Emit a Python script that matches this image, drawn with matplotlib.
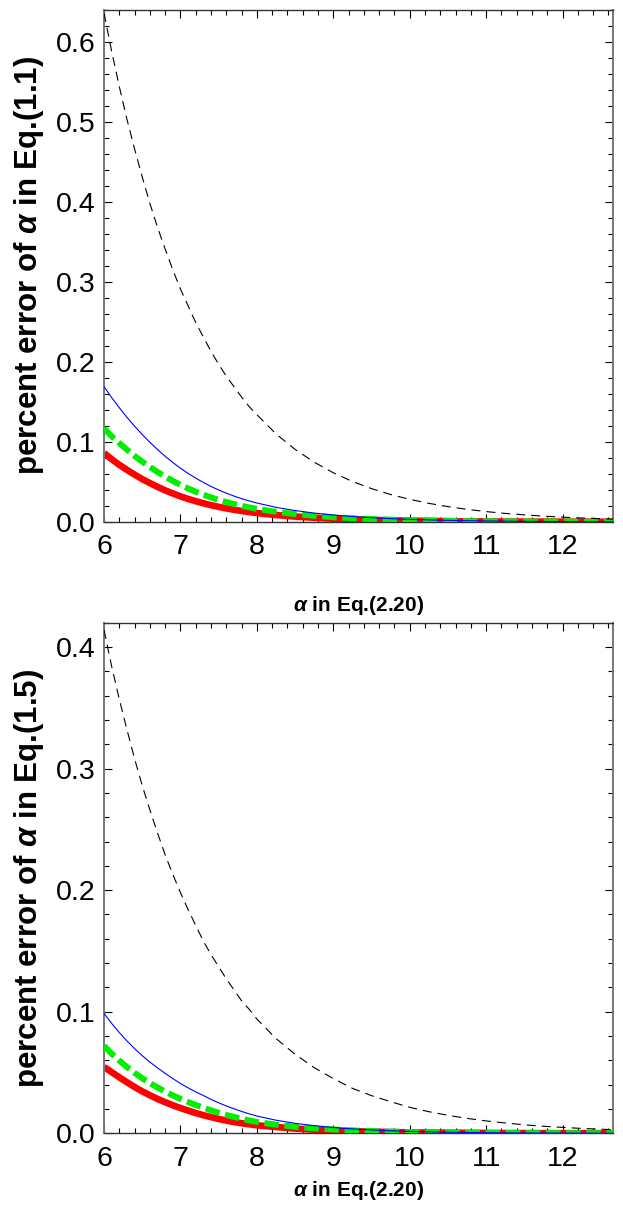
import numpy as np
import matplotlib
matplotlib.use("Agg")
import matplotlib.pyplot as plt
from matplotlib.ticker import MultipleLocator, FormatStrFormatter

plt.rcParams['font.family'] = ['Liberation Sans', 'DejaVu Sans']
plt.rcParams['mathtext.fontset'] = 'custom'
plt.rcParams['mathtext.bf'] = 'Liberation Sans:bold:italic'
plt.rcParams['lines.scale_dashes'] = False

# alpha in Eq.(2.20)
x = [6.0, 6.1, 6.2, 6.3, 6.4, 6.5, 6.6, 6.7, 6.8, 6.9, 7.0, 7.1, 7.2, 7.3, 7.4,
     7.5, 7.6, 7.7, 7.8, 7.9, 8.0,
     8.25, 8.5, 8.75, 9.0, 9.25, 9.5, 9.75, 10.0, 10.25, 10.5, 10.75, 11.0, 11.25,
     11.5, 11.75, 12.0, 12.25, 12.5, 12.66]

# top panel: percent error of alpha in Eq.(1.1)
top_black = [0.636, 0.588, 0.544, 0.503, 0.466, 0.431, 0.398, 0.368, 0.341, 0.315,
             0.291, 0.270, 0.249, 0.231, 0.213, 0.197, 0.182, 0.169, 0.156, 0.144, 0.134,
             0.110, 0.0906, 0.0746, 0.0614, 0.0505, 0.0416, 0.0342, 0.0282, 0.0232,
             0.0191, 0.0157, 0.0129, 0.0106, 0.0088, 0.0072, 0.0059, 0.0049, 0.0040, 0.0035]
top_blue = [0.169, 0.1553, 0.1426, 0.1307, 0.1196, 0.1092, 0.0995, 0.0904, 0.0820, 0.0742,
            0.0671, 0.0606, 0.0547, 0.0493, 0.0443, 0.0399, 0.0359, 0.0323, 0.0291, 0.0262,
            0.0236, 0.0182, 0.0142, 0.0110, 0.0086, 0.0067, 0.0052, 0.0041, 0.0032, 0.0025,
            0.0019, 0.0015, 0.0012, 0.0009, 0.0007, 0.0005, 0.0004, 0.0003, 0.0002, 0.0002]
top_green = [0.117, 0.107, 0.0984, 0.0902, 0.0825, 0.0753, 0.0687, 0.0624, 0.0566, 0.0512,
             0.0463, 0.0418, 0.0377, 0.0340, 0.0306, 0.0275, 0.0248, 0.0223, 0.0201, 0.0181,
             0.0163, 0.0126, 0.0098, 0.0076, 0.0059, 0.0046, 0.0036, 0.0028, 0.0022, 0.0017,
             0.0013, 0.0010, 0.0008, 0.0006, 0.0005, 0.0004, 0.0003, 0.0002, 0.0002, 0.0001]
top_red = [0.086, 0.0784, 0.0713, 0.0650, 0.0591, 0.0535, 0.0485, 0.0438, 0.0394, 0.0355,
           0.0319, 0.0287, 0.0259, 0.0233, 0.0209, 0.0188, 0.0169, 0.0152, 0.0137, 0.0123,
           0.0111, 0.0086, 0.0067, 0.0052, 0.0040, 0.0031, 0.0024, 0.0019, 0.0015, 0.0012,
           0.0009, 0.0007, 0.0005, 0.0004, 0.0003, 0.0003, 0.0002, 0.0002, 0.0001, 0.0001]

# bottom panel: percent error of alpha in Eq.(1.5)
bot_black = [0.414, 0.384, 0.357, 0.332, 0.308, 0.286, 0.266, 0.247, 0.229, 0.213,
             0.198, 0.184, 0.171, 0.158, 0.147, 0.137, 0.127, 0.118, 0.109, 0.102, 0.094,
             0.078, 0.065, 0.054, 0.045, 0.037, 0.031, 0.026, 0.0214, 0.0178, 0.0148,
             0.0123, 0.0102, 0.0085, 0.0070, 0.0058, 0.0049, 0.0040, 0.0034, 0.0030]
bot_blue = [0.0986, 0.0904, 0.0829, 0.0760, 0.0697, 0.0639, 0.0586, 0.0538, 0.0493, 0.0450,
            0.0410, 0.0374, 0.0341, 0.0311, 0.0279, 0.0251, 0.0225, 0.0202, 0.0180, 0.0160,
            0.0142, 0.0108, 0.0082, 0.0063, 0.0048, 0.0036, 0.0028, 0.0021, 0.0016, 0.0012,
            0.0009, 0.0007, 0.0005, 0.0004, 0.0003, 0.0003, 0.0002, 0.0002, 0.0001, 0.0001]
bot_green = [0.072, 0.0655, 0.0598, 0.0545, 0.0497, 0.0453, 0.0413, 0.0377, 0.0343, 0.0312,
             0.0283, 0.0257, 0.0233, 0.0211, 0.0189, 0.0169, 0.0151, 0.0135, 0.0120, 0.0106,
             0.0094, 0.0071, 0.0054, 0.0041, 0.0032, 0.0024, 0.0018, 0.0014, 0.0011, 0.0008,
             0.0006, 0.0005, 0.0004, 0.0003, 0.0002, 0.0002, 0.0001, 0.0001, 0.0001, 0.0001]
bot_red = [0.0546, 0.0503, 0.0461, 0.0420, 0.0381, 0.0345, 0.0313, 0.0283, 0.0256, 0.0231,
           0.0208, 0.0187, 0.0167, 0.0149, 0.0133, 0.0118, 0.0105, 0.0093, 0.0083, 0.0074,
           0.0066, 0.0052, 0.0039, 0.0030, 0.0023, 0.0017, 0.0013, 0.0010, 0.0008, 0.0006,
           0.0005, 0.0004, 0.0003, 0.0002, 0.0002, 0.0001, 0.0001, 0.0001, 0.0001, 0.0001]

xlabel = r'$\mathbf{\alpha}$ in Eq.(2.20)'
ylabels = [r'percent error of $\mathbf{\alpha}$ in Eq.(1.1)',
           r'percent error of $\mathbf{\alpha}$ in Eq.(1.5)']


def panel(ax, black, blue, green, red, ylabel, ymax, xlab_y):
    ax.plot(x, red, color='#ff0000', lw=4.8, solid_capstyle='butt', zorder=2)
    ax.plot(x, green, color='#00ee00', lw=4.3, dashes=(10.5, 4.0),
            dash_capstyle='butt', zorder=3)
    ax.plot(x, blue, color='#0000ff', lw=0.8, zorder=4)
    ax.plot(x, black, color='black', lw=0.8, dashes=(6.5, 4.3), zorder=5)

    ax.set_xlim(6, 12.66)
    ax.set_ylim(0, ymax)
    ax.xaxis.set_major_locator(MultipleLocator(1))
    ax.xaxis.set_minor_locator(MultipleLocator(0.2))
    ax.yaxis.set_major_locator(MultipleLocator(0.1))
    ax.yaxis.set_minor_locator(MultipleLocator(0.02))
    ax.yaxis.set_major_formatter(FormatStrFormatter('%.1f'))
    ax.tick_params(which='both', direction='in', top=True, right=True,
                   width=0.8, color='black')
    ax.tick_params(which='major', length=6, labelsize=20.5)
    ax.tick_params(axis='x', which='major', pad=9)
    ax.tick_params(axis='y', which='major', pad=6)
    ax.tick_params(which='minor', length=3.5)
    for side in ['left', 'right']:
        ax.spines[side].set_color('#777777')
        ax.spines[side].set_linewidth(1.4)
    for side in ['top', 'bottom']:
        ax.spines[side].set_color('#333333')
        ax.spines[side].set_linewidth(1.0)

    ax.set_xlabel(xlabel, fontsize=15, fontweight='bold')
    ax.xaxis.set_label_coords(0.5, xlab_y)
    ax.set_ylabel(ylabel, fontsize=22.5, fontweight='bold', labelpad=7)


fig = plt.figure(figsize=(6.23, 12.28), dpi=100)
ax1 = fig.add_axes([0.167, 0.575, 0.817, 0.417])
ax2 = fig.add_axes([0.167, 0.0771, 0.817, 0.4158])

panel(ax1, top_black, top_blue, top_green, top_red, ylabels[0], 0.64, -0.141)
panel(ax2, bot_black, bot_blue, bot_green, bot_red, ylabels[1], 0.42, -0.090)

fig.savefig('out.png', dpi=100)
